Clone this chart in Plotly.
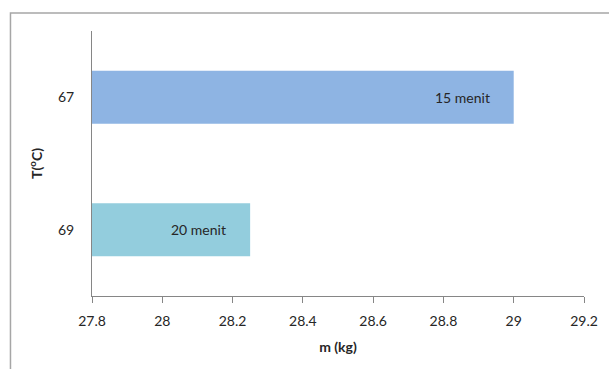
import plotly.graph_objects as go

# Temperature categories, mass values and duration labels
temps = ["67", "69"]
mass_kg = [29.0, 28.25]
durations = ["15 menit", "20 menit"]
bar_colors = ["#8EB4E3", "#93CDDD"]

x_ticks = [27.8, 28.0, 28.2, 28.4, 28.6, 28.8, 29.0, 29.2]
x_tick_text = ["27.8", "28", "28.2", "28.4", "28.6", "28.8", "29", "29.2"]

FONT = "Lato, 'Open Sans', sans-serif"

fig = go.Figure(
    go.Bar(
        x=mass_kg,
        y=temps,
        orientation="h",
        marker=dict(color=bar_colors, line=dict(width=0)),
        width=0.4,
    )
)

# duration labels placed inside the end of each bar
for i, (m, d) in enumerate(zip(mass_kg, durations)):
    fig.add_annotation(
        x=m, y=i, xref="x", yref="y", text=d, showarrow=False,
        xanchor="right", xshift=-22,
        font=dict(family=FONT, size=14, color="#262626"),
    )

# outer chart frame
fig.add_shape(
    type="rect", xref="paper", yref="paper",
    x0=-0.1657, x1=1.2, y0=-0.5, y1=1.0679,
    line=dict(color="#A6A6A6", width=1.5), layer="below",
)

fig.update_layout(
    width=609, height=369,
    margin=dict(l=92, r=25, t=31, b=73),
    paper_bgcolor="white", plot_bgcolor="white",
    showlegend=False,
    font=dict(family=FONT, size=14, color="#262626"),
    xaxis=dict(
        range=[27.8, 29.2],
        tickvals=x_ticks, ticktext=x_tick_text,
        showgrid=False, zeroline=False,
        showline=True, linecolor="#868686", linewidth=1,
        ticks="outside", ticklen=6, tickcolor="#868686",
        ticklabelstandoff=6,
        tickfont=dict(family=FONT, size=14),
        title=dict(text="<b>m (kg)</b>", font=dict(family=FONT, size=14), standoff=14),
    ),
    yaxis=dict(
        type="category", categoryorder="array", categoryarray=temps,
        range=[1.5, -0.5],
        showgrid=False, zeroline=False,
        showline=True, linecolor="#868686", linewidth=1,
        ticks="", ticklabelstandoff=14,
        tickfont=dict(family=FONT, size=14),
        title=dict(text="<b>T(<sup>o</sup>C)</b>", font=dict(family=FONT, size=14), standoff=12),
    ),
)

fig.write_html("out.html")
